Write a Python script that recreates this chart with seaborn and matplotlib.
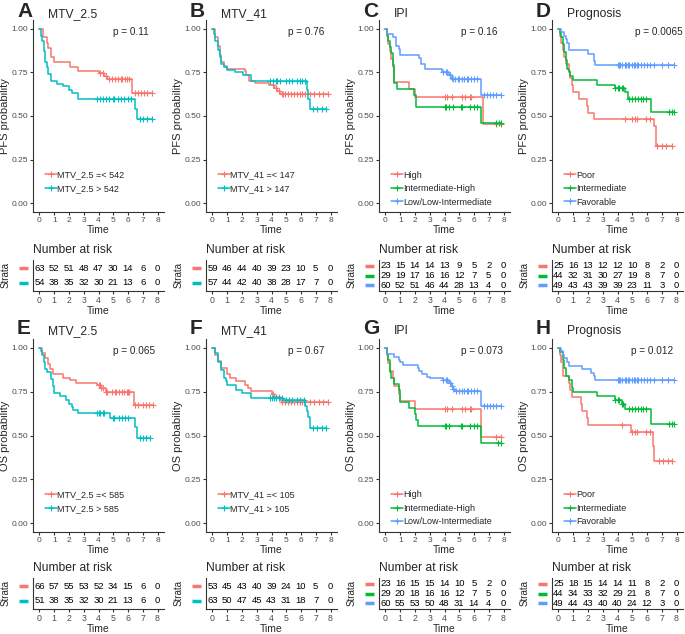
import numpy as np
import seaborn as sns
import matplotlib.pyplot as plt
from matplotlib.lines import Line2D
from matplotlib.transforms import blended_transform_factory

# ---- data ----
# A: PFS, MTV_2.5
A1_t = [0.25, 0.5, 0.6, 0.75, 1.0, 2.1, 2.6, 4.0, 4.4, 4.6, 6.3]
A1_s = [0.95, 0.92, 0.89, 0.84, 0.81, 0.78, 0.76, 0.745, 0.73, 0.71, 0.63]
A1_c = [4.1, 4.3, 4.5, 4.7, 4.9, 5.1, 5.3, 5.5, 5.6, 5.8, 5.9, 6.1, 6.5, 6.7, 6.9, 7.1, 7.3, 7.6]
A2_t = [0.1, 0.2, 0.3, 0.4, 0.5, 0.6, 0.8, 1.2, 1.6, 2.0, 2.2, 2.6, 6.5, 6.6]
A2_s = [0.96, 0.93, 0.87, 0.81, 0.78, 0.74, 0.70, 0.685, 0.67, 0.65, 0.63, 0.595, 0.54, 0.48]
A2_c = [3.9, 4.1, 4.3, 4.5, 4.7, 5.0, 5.05, 5.3, 5.5, 5.7, 6.0, 6.2, 6.8, 7.0, 7.3, 7.6]
# B: PFS, MTV_41
B1_t = [0.2, 0.4, 0.5, 0.6, 0.8, 1.0, 2.2, 2.3, 2.5, 2.9, 3.8, 4.2, 4.4, 4.6]
B1_s = [0.95, 0.90, 0.85, 0.81, 0.785, 0.77, 0.755, 0.735, 0.70, 0.69, 0.675, 0.66, 0.645, 0.625]
B1_c = [4.1, 4.3, 4.5, 4.7, 4.8, 4.9, 5.1, 5.3, 5.5, 5.7, 5.9, 6.1, 6.3, 6.6, 6.9, 7.2, 7.5, 7.8]
B2_t = [0.1, 0.2, 0.35, 0.5, 0.6, 0.8, 1.0, 1.5, 2.1, 2.6, 6.4, 6.5, 6.6]
B2_s = [0.97, 0.93, 0.88, 0.84, 0.80, 0.78, 0.765, 0.75, 0.735, 0.70, 0.65, 0.595, 0.54]
B2_c = [3.9, 4.1, 4.3, 4.4, 4.6, 5.0, 5.2, 5.4, 5.7, 5.9, 6.1, 6.3, 6.8, 7.1, 7.4, 7.7]
# C: PFS, IPI
C1_t = [0.1, 0.2, 0.3, 0.4, 0.5, 0.55, 0.6, 1.6, 2.0, 6.6]
C1_s = [0.957, 0.913, 0.87, 0.826, 0.78, 0.74, 0.696, 0.652, 0.609, 0.457]
C1_c = [4.0, 4.2, 4.5, 5.2, 5.4, 5.7, 5.8, 7.5, 7.8]
C2_t = [0.1, 0.2, 0.3, 0.4, 0.5, 0.55, 0.6, 0.8, 1.9, 2.1, 6.5]
C2_s = [0.966, 0.931, 0.897, 0.862, 0.79, 0.724, 0.69, 0.655, 0.62, 0.552, 0.46]
C2_c = [4.0, 4.1, 4.3, 4.6, 5.1, 5.2, 5.7, 6.0, 6.2, 7.5, 7.7, 7.8]
C3_t = [0.1, 0.5, 0.7, 0.9, 1.0, 2.3, 2.4, 2.7, 3.8, 4.3, 4.5, 4.6, 6.5]
C3_s = [0.967, 0.95, 0.9, 0.883, 0.85, 0.833, 0.80, 0.767, 0.75, 0.733, 0.717, 0.71, 0.62]
C3_c = [3.9, 4.1, 4.2, 4.4, 4.5, 4.6, 4.7, 4.9, 5.0, 5.2, 5.3, 5.5, 5.6, 5.8, 6.0, 6.2,
        6.7, 6.9, 7.1, 7.3, 7.5, 7.8]
# D: PFS, Prognosis
D1_t = [0.1, 0.2, 0.3, 0.4, 0.5, 0.7, 0.8, 0.9, 1.0, 1.4, 1.9, 2.0, 2.4, 6.5, 6.6]
D1_s = [0.96, 0.92, 0.88, 0.84, 0.80, 0.76, 0.72, 0.68, 0.64, 0.60, 0.56, 0.52, 0.48, 0.44, 0.33]
D1_c = [4.5, 5.0, 5.2, 5.3, 5.9, 6.2, 6.7, 7.0, 7.3, 7.7]
D2_t = [0.1, 0.2, 0.3, 0.4, 0.5, 0.6, 0.7, 0.8, 1.0, 2.6, 3.8, 4.5, 4.7, 6.3]
D2_s = [0.977, 0.955, 0.91, 0.864, 0.818, 0.77, 0.75, 0.727, 0.705, 0.68, 0.66, 0.64, 0.60, 0.525]
D2_c = [3.8, 4.0, 4.1, 4.3, 4.4, 4.8, 5.0, 5.2, 5.4, 5.6, 5.7, 5.9, 7.5, 7.7, 7.8]
D3_t = [0.2, 0.4, 0.5, 0.6, 0.7, 2.0, 2.4, 2.5]
D3_s = [0.98, 0.959, 0.94, 0.92, 0.878, 0.857, 0.816, 0.795]
D3_c = [4.0, 4.1, 4.2, 4.3, 4.5, 4.6, 4.7, 4.8, 5.0, 5.1, 5.2, 5.3, 5.4, 5.6, 5.8, 6.0,
        6.2, 6.5, 7.0, 7.4, 7.8]
# E: OS, MTV_2.5
E1_t = [0.2, 0.4, 0.6, 0.7, 0.9, 1.6, 2.1, 2.5, 3.9, 4.2, 4.5, 6.4]
E1_s = [0.97, 0.94, 0.909, 0.88, 0.848, 0.83, 0.818, 0.80, 0.787, 0.77, 0.75, 0.675]
E1_c = [4.0, 4.1, 4.2, 4.3, 4.5, 4.6, 4.9, 5.1, 5.2, 5.4, 5.6, 5.7, 5.9, 6.0, 6.1, 6.5,
        6.7, 7.0, 7.2, 7.4, 7.7]
E2_t = [0.1, 0.2, 0.3, 0.4, 0.5, 0.8, 0.9, 1.0, 1.4, 1.8, 2.0, 2.2, 2.3, 2.6, 4.8, 6.5, 6.6]
E2_s = [0.98, 0.96, 0.92, 0.88, 0.86, 0.82, 0.78, 0.745, 0.725, 0.70, 0.68, 0.66, 0.645,
        0.63, 0.60, 0.55, 0.485]
E2_c = [3.9, 4.0, 4.1, 4.3, 4.4, 5.0, 5.05, 5.4, 5.6, 5.8, 6.0, 6.8, 7.0, 7.2, 7.5]
# F: OS, MTV_41
F1_t = [0.2, 0.4, 0.6, 1.0, 1.2, 1.6, 2.2, 2.4, 2.6, 4.0, 4.2, 4.6, 4.7]
F1_s = [0.96, 0.925, 0.887, 0.849, 0.83, 0.81, 0.79, 0.77, 0.755, 0.735, 0.72, 0.70, 0.69]
F1_c = [4.1, 4.3, 4.5, 4.7, 4.9, 5.1, 5.3, 5.5, 5.7, 5.9, 6.1, 6.3, 6.6, 6.9, 7.2, 7.5, 7.8]
F2_t = [0.2, 0.4, 0.6, 0.8, 0.9, 1.0, 1.6, 2.0, 2.6, 4.8, 6.3, 6.4, 6.5, 6.6]
F2_s = [0.968, 0.92, 0.873, 0.825, 0.81, 0.79, 0.76, 0.74, 0.715, 0.70, 0.67, 0.64, 0.605, 0.545]
F2_c = [3.9, 4.0, 4.2, 4.3, 4.5, 4.7, 5.0, 5.2, 5.4, 5.7, 5.9, 6.2, 6.8, 7.1, 7.4, 7.7]
# G: OS, IPI
G1_t = [0.1, 0.2, 0.3, 0.5, 0.6, 0.9, 1.0, 2.0, 6.5]
G1_s = [0.957, 0.913, 0.87, 0.826, 0.783, 0.739, 0.696, 0.652, 0.49]
G1_c = [4.0, 4.2, 4.5, 5.2, 5.4, 5.7, 5.8, 7.5, 7.8]
G2_t = [0.1, 0.2, 0.3, 0.4, 0.6, 0.9, 1.0, 1.6, 2.0, 2.1, 2.2, 6.5]
G2_s = [0.966, 0.931, 0.862, 0.828, 0.793, 0.759, 0.69, 0.655, 0.621, 0.586, 0.552, 0.46]
G2_c = [4.0, 4.1, 4.3, 5.1, 5.2, 5.7, 6.0, 6.2, 7.6, 7.8]
G3_t = [0.1, 0.6, 0.9, 1.0, 1.2, 2.2, 2.3, 2.5, 2.8, 3.0, 3.9, 4.3, 4.5, 4.6, 4.7, 6.5]
G3_s = [0.967, 0.95, 0.933, 0.917, 0.90, 0.883, 0.867, 0.85, 0.833, 0.825, 0.817, 0.80,
        0.783, 0.767, 0.755, 0.67]
G3_c = [3.9, 4.1, 4.2, 4.4, 4.5, 4.6, 4.8, 5.0, 5.2, 5.3, 5.5, 5.6, 5.8, 6.0, 6.2, 6.7,
        6.9, 7.1, 7.3, 7.5, 7.8]
# H: OS, Prognosis
H1_t = [0.1, 0.2, 0.3, 0.7, 0.8, 0.9, 1.5, 1.6, 1.9, 2.0, 4.9, 6.4, 6.5]
H1_s = [0.96, 0.92, 0.84, 0.80, 0.76, 0.72, 0.68, 0.64, 0.60, 0.56, 0.52, 0.44, 0.355]
H1_c = [4.3, 5.0, 5.2, 5.3, 5.9, 6.2, 6.8, 7.1, 7.4, 7.7]
H2_t = [0.1, 0.3, 0.4, 0.5, 0.7, 0.9, 1.0, 2.6, 3.8, 4.3, 4.5, 6.3]
H2_s = [0.977, 0.93, 0.886, 0.84, 0.818, 0.773, 0.75, 0.727, 0.705, 0.68, 0.65, 0.565]
H2_c = [3.8, 4.0, 4.1, 4.3, 4.4, 4.8, 5.0, 5.2, 5.4, 5.6, 5.7, 5.9, 7.5, 7.7, 7.8]
H3_t = [0.2, 0.3, 0.4, 0.6, 0.7, 1.6, 2.2, 2.4, 2.5]
H3_s = [0.98, 0.959, 0.939, 0.918, 0.898, 0.878, 0.857, 0.837, 0.816]
H3_c = [4.0, 4.1, 4.2, 4.3, 4.5, 4.6, 4.7, 4.8, 5.0, 5.1, 5.2, 5.3, 5.4, 5.6, 5.8, 6.0,
        6.2, 6.5, 7.0, 7.4, 7.8]

# number at risk at t = 0..8
risk_times = [0, 1, 2, 3, 4, 5, 6, 7, 8]
A_risk = [[63, 52, 51, 48, 47, 30, 14, 6, 0], [54, 38, 35, 32, 30, 21, 13, 6, 0]]
B_risk = [[59, 46, 44, 40, 39, 23, 10, 5, 0], [57, 44, 42, 40, 38, 28, 17, 7, 0]]
C_risk = [[23, 15, 14, 14, 13, 9, 5, 2, 0], [29, 19, 17, 16, 16, 12, 7, 5, 0],
          [60, 52, 51, 46, 44, 28, 13, 4, 0]]
D_risk = [[25, 16, 13, 12, 12, 10, 8, 2, 0], [44, 32, 31, 30, 27, 19, 8, 7, 0],
          [49, 43, 43, 39, 39, 23, 11, 3, 0]]
E_risk = [[66, 57, 55, 53, 52, 34, 15, 6, 0], [51, 38, 35, 32, 30, 21, 13, 6, 0]]
F_risk = [[53, 45, 43, 40, 39, 24, 10, 5, 0], [63, 50, 47, 45, 43, 31, 18, 7, 0]]
G_risk = [[23, 16, 15, 15, 14, 10, 5, 2, 0], [29, 20, 18, 16, 16, 12, 7, 5, 0],
          [60, 55, 53, 50, 48, 31, 14, 4, 0]]
H_risk = [[25, 18, 15, 14, 14, 11, 8, 2, 0], [44, 34, 33, 32, 29, 21, 8, 7, 0],
          [49, 44, 43, 40, 40, 24, 12, 3, 0]]

letters = ['A', 'B', 'C', 'D', 'E', 'F', 'G', 'H']
titles = ['MTV_2.5', 'MTV_41', 'IPI', 'Prognosis'] * 2
ylabels = ['PFS probability'] * 4 + ['OS probability'] * 4
pvals = ['p = 0.11', 'p = 0.76', 'p = 0.16', 'p = 0.0065',
         'p = 0.065', 'p = 0.67', 'p = 0.073', 'p = 0.012']
ipi_labels = ['High', 'Intermediate-High', 'Low/Low-Intermediate']
prog_labels = ['Poor', 'Intermediate', 'Favorable']
legend_labels = [['MTV_2.5 =< 542', 'MTV_2.5 > 542'], ['MTV_41 =< 147', 'MTV_41 > 147'],
                 ipi_labels, prog_labels,
                 ['MTV_2.5 =< 585', 'MTV_2.5 > 585'], ['MTV_41 =< 105', 'MTV_41 > 105'],
                 ipi_labels, prog_labels]
curves = [[(A1_t, A1_s, A1_c), (A2_t, A2_s, A2_c)],
          [(B1_t, B1_s, B1_c), (B2_t, B2_s, B2_c)],
          [(C1_t, C1_s, C1_c), (C2_t, C2_s, C2_c), (C3_t, C3_s, C3_c)],
          [(D1_t, D1_s, D1_c), (D2_t, D2_s, D2_c), (D3_t, D3_s, D3_c)],
          [(E1_t, E1_s, E1_c), (E2_t, E2_s, E2_c)],
          [(F1_t, F1_s, F1_c), (F2_t, F2_s, F2_c)],
          [(G1_t, G1_s, G1_c), (G2_t, G2_s, G2_c), (G3_t, G3_s, G3_c)],
          [(H1_t, H1_s, H1_c), (H2_t, H2_s, H2_c), (H3_t, H3_s, H3_c)]]
risks = [A_risk, B_risk, C_risk, D_risk, E_risk, F_risk, G_risk, H_risk]

pal2 = ['#F8766D', '#00BFC4']
pal3 = ['#F8766D', '#00BA38', '#619CFF']

# ---- style ----
sns.set_style('ticks')
plt.rcParams['font.family'] = ['Liberation Sans', 'DejaVu Sans']
AX_COL = '#333333'
plt.rcParams.update({'axes.edgecolor': AX_COL, 'axes.linewidth': 0.8,
                     'xtick.color': AX_COL, 'ytick.color': AX_COL,
                     'xtick.major.size': 2, 'ytick.major.size': 2,
                     'xtick.major.width': 0.8, 'ytick.major.width': 0.8,
                     'xtick.major.pad': 1.5, 'ytick.major.pad': 1.5,
                     'xtick.labelcolor': '#4d4d4d', 'ytick.labelcolor': '#4d4d4d'})

W, H = 685, 634
fig = plt.figure(figsize=(W / 100, H / 100), dpi=100)


def box(x0, y0, x1, y1):
    return [x0 / W, 1 - y1 / H, (x1 - x0) / W, (y1 - y0) / H]


lefts = [33, 206, 379, 552]
AXW = 131
km_rows = [(20, 212), (339, 532)]
tab_rows = [(260, 291), (578, 609)]
XLIM = (-0.44, 8.44)
pval_x = [5.0, 5.1, 5.1, 5.2, 5.0, 5.1, 5.1, 4.9]

for i in range(8):
    r, col = divmod(i, 4)
    L = lefts[col]
    k = len(curves[i])
    pal = pal2 if k == 2 else pal3

    # survival curves
    ax = fig.add_axes(box(L, km_rows[r][0], L + AXW, km_rows[r][1]))
    for (t, s, c), colr in zip(curves[i], pal):
        xs = [0] + t + [max(c)]
        ys = [1.0] + s + [s[-1]]
        sns.lineplot(x=xs, y=ys, ax=ax, color=colr, lw=1.1, drawstyle='steps-post',
                     estimator=None, sort=False, legend=False)
        cy = np.array([1.0] + s)[np.searchsorted(t, c, side='right')]
        ax.plot(c, cy, ls='none', marker='+', ms=5, mew=0.8, color=colr)
    ax.set_xlim(*XLIM)
    ax.set_ylim(-0.05, 1.05)
    ax.set_xticks(range(9))
    ax.set_yticks([0, 0.25, 0.5, 0.75, 1.0], ['0.00', '0.25', '0.50', '0.75', '1.00'])
    ax.tick_params(labelsize=6)
    ax.set_xlabel('Time', fontsize=7.5, labelpad=1)
    ax.set_ylabel('')
    sns.despine(ax=ax)
    ymid = (km_rows[r][0] + km_rows[r][1]) / 2
    fig.text((L - 28) / W, 1 - ymid / H, ylabels[i], rotation=90, fontsize=8,
             ha='center', va='center')
    ax.text(pval_x[i], 0.98, pvals[i], fontsize=7.2, ha='left', va='center')
    handles = [Line2D([], [], color=c_, lw=1.1, marker='+', ms=5, mew=0.8) for c_ in pal]
    ax.legend(handles, legend_labels[i], loc='upper left', bbox_to_anchor=(0.09, 0.216),
              frameon=False, fontsize=6.5, handlelength=1.3, handletextpad=0.1,
              labelspacing=0.5, borderpad=0, borderaxespad=0)

    # risk table
    tb = fig.add_axes(box(L, tab_rows[r][0], L + AXW, tab_rows[r][1]))
    for j, row in enumerate(risks[i]):
        for tt, n in zip(risk_times, row):
            tb.text(tt, j + 1, str(n), fontsize=6.8, ha='center', va='center', color='black')
    tb.set_xlim(*XLIM)
    tb.set_ylim(k + 0.6, 0.4)
    tb.set_xticks(range(9))
    tb.set_yticks([])
    tb.tick_params(labelsize=6.3)
    tb.set_xlabel('Time', fontsize=7.5, labelpad=0.5)
    sns.despine(ax=tb)
    trans = blended_transform_factory(tb.transAxes, tb.transData)
    for j, colr in enumerate(pal):
        tb.plot([-0.11, -0.04], [j + 1, j + 1], transform=trans, clip_on=False,
                color=colr, lw=2.5, solid_capstyle='butt')
    tmid = (tab_rows[r][0] + tab_rows[r][1]) / 2
    fig.text((L - 27) / W, 1 - tmid / H, 'Strata', rotation=90, fontsize=7,
             ha='center', va='center')
    tb.text(0.0, 1.12, 'Number at risk', transform=tb.transAxes, fontsize=8.7,
            ha='left', va='bottom')

    # panel letter and title
    top_base = [17, 334][r]
    fig.text((L - 16) / W, 1 - top_base / H, letters[i], fontsize=15, fontweight='bold',
             ha='left', va='baseline')
    fig.text((L + 15) / W, 1 - top_base / H, titles[i], fontsize=8.7, ha='left',
             va='baseline')

fig.savefig('out.png', dpi=100)
